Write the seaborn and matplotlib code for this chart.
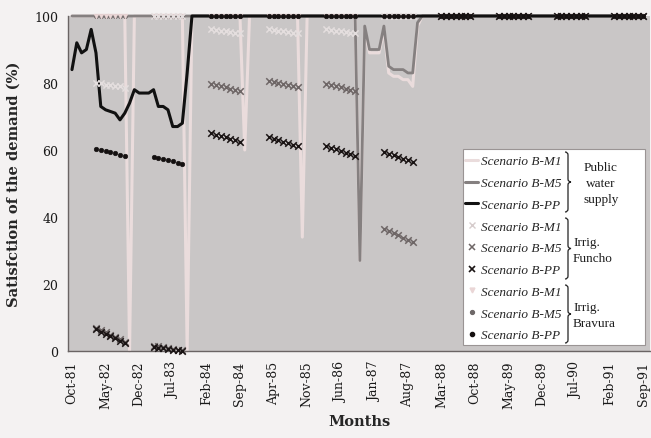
# -*- coding: utf-8 -*-
# Satisfaction of the demand, scenarios B (public supply + irrigation Funcho / Bravura)
import numpy as np
import pandas as pd
import matplotlib.pyplot as plt
import seaborn as sns
from matplotlib.path import Path
from matplotlib.patches import PathPatch, Rectangle
from matplotlib.lines import Line2D

sns.set_theme(style="white")
plt.rcParams['font.family'] = ['DejaVu Serif']

# --- data: monthly values, one row per hydrological year (Oct .. Sep) ---
supply_pp = [
    84, 92, 89, 90, 96, 89, 73, 72, 71.5, 71, 69, 71,
    74, 78, 77, 77, 77, 78, 73, 73, 72, 67, 67, 68,
    83, 100, 100, 100, 100, 100, 100, 100, 100, 100, 100, 100,
    100, 100, 100, 100, 100, 100, 100, 100, 100, 100, 100, 100,
    100, 100, 100, 100, 100, 100, 100, 100, 100, 100, 100, 100,
    100, 100, 100, 100, 100, 100, 100, 100, 100, 100, 100, 100,
    100, 100, 100, 100, 100, 100, 100, 100, 100, 100, 100, 100,
    100, 100, 100, 100, 100, 100, 100, 100, 100, 100, 100, 100,
    100, 100, 100, 100, 100, 100, 100, 100, 100, 100, 100, 100,
    100, 100, 100, 100, 100, 100, 100, 100, 100, 100, 100, 100,
]
supply_m5 = [
    100, 100, 100, 100, 100, 100, 100, 100, 100, 100, 100, 100,
    100, 100, 100, 100, 100, 100, 100, 100, 100, 100, 100, 100,
    100, 100, 100, 100, 100, 100, 100, 100, 100, 100, 100, 100,
    100, 100, 100, 100, 100, 100, 100, 100, 100, 100, 100, 100,
    100, 100, 100, 100, 100, 100, 100, 100, 100, 100, 100, 100,
    27, 97, 90, 90, 90, 97, 85, 84, 84, 84, 83, 83,
    98, 100, 100, 100, 100, 100, 100, 100, 100, 100, 100, 100,
    100, 100, 100, 100, 100, 100, 100, 100, 100, 100, 100, 100,
    100, 100, 100, 100, 100, 100, 100, 100, 100, 100, 100, 100,
    100, 100, 100, 100, 100, 100, 100, 100, 100, 100, 100, 100,
]
supply_m1 = [
    100, 100, 100, 100, 100, 100, 100, 100, 100, 100, 100, 100,
    0, 100, 100, 100, 100, 100, 100, 100, 100, 100, 100, 100,
    0, 100, 100, 100, 100, 100, 100, 100, 100, 100, 100, 100,
    60, 100, 100, 100, 100, 100, 100, 100, 100, 100, 100, 100,
    34, 100, 100, 100, 100, 100, 100, 100, 100, 100, 100, 100,
    27, 96, 89, 89, 89, 96, 83, 82, 82, 81, 81, 79,
    97, 100, 100, 100, 100, 100, 100, 100, 100, 100, 100, 100,
    100, 100, 100, 100, 100, 100, 100, 100, 100, 100, 100, 100,
    100, 100, 100, 100, 100, 100, 100, 100, 100, 100, 100, 100,
    100, 100, 100, 100, 100, 100, 100, 100, 100, 100, 100, 100,
]

# irrigation seasons (Mar .. Sep), one row per year 1982 .. 1991
funcho_pp = [
    6.5, 5.8, 5.2, 4.5, 3.8, 3.0, 2.3,
    1.2, 1.0, 0.8, 0.6, 0.4, 0.2, 0.1,
    65.0, 64.6, 64.2, 63.8, 63.4, 63.0, 62.5,
    63.8, 63.4, 62.9, 62.5, 62.1, 61.6, 61.2,
    61.2, 60.7, 60.2, 59.7, 59.2, 58.7, 58.2,
    59.4, 58.9, 58.4, 57.9, 57.4, 56.9, 56.4,
    100, 100, 100, 100, 100, 100, 100,
    100, 100, 100, 100, 100, 100, 100,
    100, 100, 100, 100, 100, 100, 100,
    100, 100, 100, 100, 100, 100, 100,
]
funcho_m5 = [
    7.0, 6.3, 5.6, 4.9, 4.2, 3.5, 2.8,
    1.6, 1.4, 1.1, 0.9, 0.6, 0.4, 0.2,
    79.7, 79.4, 79.0, 78.7, 78.3, 78.0, 77.6,
    80.6, 80.3, 80.0, 79.7, 79.4, 79.1, 78.8,
    79.7, 79.4, 79.0, 78.7, 78.3, 78.0, 77.6,
    36.5, 35.8, 35.2, 34.5, 33.8, 33.2, 32.5,
    100, 100, 100, 100, 100, 100, 100,
    100, 100, 100, 100, 100, 100, 100,
    100, 100, 100, 100, 100, 100, 100,
    100, 100, 100, 100, 100, 100, 100,
]
funcho_m1 = [
    80, 80, 79.5, 79.5, 79, 79, 78.5,
    100, 100, 100, 100, 100, 100, 100,
    96, 95.8, 95.6, 95.4, 95.2, 95, 94.8,
    96, 95.8, 95.6, 95.4, 95.2, 95, 94.8,
    96, 95.8, 95.6, 95.4, 95.2, 95, 94.8,
    100, 100, 100, 100, 100, 100, 100,
    100, 100, 100, 100, 100, 100, 100,
    100, 100, 100, 100, 100, 100, 100,
    100, 100, 100, 100, 100, 100, 100,
    100, 100, 100, 100, 100, 100, 100,
]
bravura_pp = [
    60.3, 60.0, 59.7, 59.3, 59.0, 58.6, 58.3,
    57.9, 57.6, 57.2, 56.9, 56.6, 56.2, 55.8,
    100, 100, 100, 100, 100, 100, 100,
    100, 100, 100, 100, 100, 100, 100,
    100, 100, 100, 100, 100, 100, 100,
    100, 100, 100, 100, 100, 100, 100,
    100, 100, 100, 100, 100, 100, 100,
    100, 100, 100, 100, 100, 100, 100,
    100, 100, 100, 100, 100, 100, 100,
    100, 100, 100, 100, 100, 100, 100,
]
bravura_m5 = [100] * 70
bravura_m1 = [100] * 70

tick_labels = ['Oct-81', 'May-82', 'Dec-82', 'Jul-83', 'Feb-84', 'Sep-84',
               'Apr-85', 'Nov-85', 'Jun-86', 'Jan-87', 'Aug-87', 'Mar-88',
               'Oct-88', 'May-89', 'Dec-89', 'Jul-90', 'Feb-91', 'Sep-91']

# month index of every point
month = np.arange(len(supply_pp))
season_month = np.array([m for k in range(10) for m in range(5 + 12 * k, 12 + 12 * k)])

df_supply = pd.DataFrame({'month': month, 'PP': supply_pp, 'M5': supply_m5, 'M1': supply_m1})
df_irrig = pd.DataFrame({'month': season_month,
                         'F_PP': funcho_pp, 'F_M5': funcho_m5, 'F_M1': funcho_m1,
                         'B_PP': bravura_pp, 'B_M5': bravura_m5, 'B_M1': bravura_m1})

W, H = 651, 439
fig = plt.figure(figsize=(W / 100, H / 100), dpi=100, facecolor='#f4f2f2')
ax = fig.add_axes([68 / W, 1 - 352 / H, (650 - 68) / W, (352 - 17) / H])
ax.set_facecolor('#c9c6c6')

# public water supply lines
c_m1, c_m5, c_pp = '#eadcdc', '#858080', '#111111'
sns.lineplot(data=df_supply, x='month', y='M1', ax=ax, color=c_m1, lw=2.2, clip_on=False, zorder=2)
sns.lineplot(data=df_supply, x='month', y='M5', ax=ax, color=c_m5, lw=2.0, clip_on=False, zorder=3)
sns.lineplot(data=df_supply, x='month', y='PP', ax=ax, color=c_pp, lw=2.2, clip_on=False, zorder=4)

# irrigation markers
styles = [
    ('B_M5', 'o', '#6e6868', 10),
    ('B_M1', 'v', '#ead6d6', 12),
    ('F_M1', 'x', '#e4dede', 20),
    ('F_M5', 'x', '#6e6666', 22),
    ('F_PP', 'x', '#1a1414', 22),
    ('B_PP', 'o', '#141010', 11),
]
for col, mk, colr, sz in styles:
    if mk == 'x':
        sns.scatterplot(data=df_irrig, x='month', y=col, ax=ax, marker=mk, color=colr,
                        s=sz, linewidth=1.1, clip_on=False, zorder=5)
    else:
        sns.scatterplot(data=df_irrig, x='month', y=col, ax=ax, marker=mk, color=colr,
                        s=sz, edgecolor=colr, linewidth=0.4, clip_on=False, zorder=5)

ax.set_xlim(-0.83, 120.45)
ax.set_ylim(0, 100)
ax.set_xticks(np.arange(0, len(month), 7))
ax.set_xticklabels(tick_labels, rotation=90, fontsize=9, color='#1a1a1a')
ax.set_yticks([0, 20, 40, 60, 80, 100])
ax.set_yticklabels(['0', '20', '40', '60', '80', '100'], fontsize=9, color='#1a1a1a')
ax.tick_params(axis='both', length=0, pad=7)
ax.set_xlabel('Months', fontsize=10.5, fontweight='bold', labelpad=4)
ax.set_ylabel('Satisfction of the demand (%)', fontsize=10.5, fontweight='bold', labelpad=10)
for s in ['top', 'right']:
    ax.spines[s].set_visible(False)
for s in ['left', 'bottom']:
    ax.spines[s].set_color('#6a6464')
    ax.spines[s].set_linewidth(1.0)

# --- legend box with grouped entries ---
def fx(px):
    return px / W

def fy(py):
    return 1 - py / H

box = Rectangle((fx(463), fy(346)), fx(645) - fx(463), fy(150) - fy(346),
                transform=fig.transFigure, facecolor='white', edgecolor='#9a9494',
                lw=0.8, zorder=6)
fig.patches.append(box)

handles = [
    Line2D([], [], color=c_m1, lw=2.2),
    Line2D([], [], color=c_m5, lw=2.2),
    Line2D([], [], color=c_pp, lw=2.2),
    Line2D([], [], ls='none', marker='x', color='#d6cccc', ms=5, mew=1.0),
    Line2D([], [], ls='none', marker='x', color='#6e6666', ms=5, mew=1.1),
    Line2D([], [], ls='none', marker='x', color='#1a1414', ms=5, mew=1.2),
    Line2D([], [], ls='none', marker='v', color='#ead6d6', ms=3.5),
    Line2D([], [], ls='none', marker='o', color='#6e6868', ms=2.8),
    Line2D([], [], ls='none', marker='o', color='#141010', ms=3.0),
]
labels = ['Scenario B-M1', 'Scenario B-M5', 'Scenario B-PP'] * 3
leg = fig.legend(handles, labels, loc='upper left', bbox_to_anchor=(fx(456), fy(147)),
                 bbox_transform=fig.transFigure, frameon=False, handlelength=1.0,
                 handletextpad=0.2, labelspacing=0.72, borderpad=0.2,
                 prop={'family': 'Liberation Serif', 'style': 'italic', 'size': 9.5})
leg.set_zorder(7)


def brace(x0, y1, y2, w=6):
    # right-facing curly brace in pixel coords of the image
    ym = (y1 + y2) / 2
    r = 3
    xm = x0 + w / 2
    pts = [(x0, y1), (xm, y1), (xm, y1 + r), (xm, ym - r), (xm, ym), (x0 + w, ym),
           (xm, ym), (xm, ym + r), (xm, y2 - r), (xm, y2), (x0, y2)]
    codes = [Path.MOVETO, Path.CURVE3, Path.CURVE3, Path.LINETO, Path.CURVE3, Path.CURVE3,
             Path.CURVE3, Path.CURVE3, Path.LINETO, Path.CURVE3, Path.CURVE3]
    verts = [(fx(a), fy(b)) for a, b in pts]
    fig.patches.append(PathPatch(Path(verts, codes), transform=fig.transFigure,
                                 facecolor='none', edgecolor='#222222', lw=0.9, zorder=8))


brace(565, 153, 213)
brace(565, 219, 280)
brace(565, 286, 344)

grp = dict(fontsize=9.5, family='Liberation Serif', color='#1e1e1e', zorder=8)
fig.text(fx(601), fy(168), 'Public', ha='center', va='center', **grp)
fig.text(fx(601), fy(184), 'water', ha='center', va='center', **grp)
fig.text(fx(601), fy(200), 'supply', ha='center', va='center', **grp)
fig.text(fx(573), fy(243), 'Irrig.', ha='left', va='center', **grp)
fig.text(fx(573), fy(259), 'Funcho', ha='left', va='center', **grp)
fig.text(fx(573), fy(308), 'Irrig.', ha='left', va='center', **grp)
fig.text(fx(573), fy(324), 'Bravura', ha='left', va='center', **grp)

fig.savefig('out.png', dpi=100, facecolor=fig.get_facecolor())
plt.close(fig)
